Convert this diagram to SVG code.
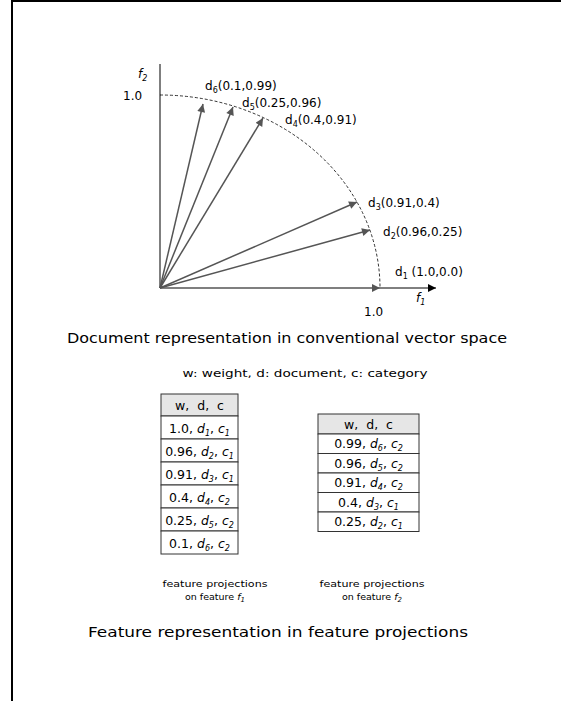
<svg xmlns="http://www.w3.org/2000/svg" width="561" height="701" viewBox="0 0 561 701">
<style>
text{font-family:"DejaVu Sans","Liberation Sans",Arial,sans-serif;fill:#000}
.lbl{font-size:12px}
.vec{stroke:#555;stroke-width:1.5;fill:none}
.cell{fill:#fff;stroke:#333;stroke-width:1}
.hdr{fill:#e6e6e6;stroke:#333;stroke-width:1}
.tc{font-size:12.5px;text-anchor:middle}
.it{font-style:italic}
.small{font-size:9.5px;text-anchor:middle}
</style>
<defs>
<marker id="ag" viewBox="0 0 10 10" refX="10" refY="5" markerWidth="9" markerHeight="8" markerUnits="userSpaceOnUse" orient="auto"><path d="M0,0L10,5L0,10z" fill="#555"/></marker>
<marker id="ab" viewBox="0 0 10 10" refX="10" refY="5" markerWidth="9" markerHeight="8" markerUnits="userSpaceOnUse" orient="auto"><path d="M0,0L10,5L0,10z" fill="#000"/></marker>
</defs>
<rect x="0" y="0" width="561" height="701" fill="#fff"/>
<path d="M12,701V1H561" stroke="#000" stroke-width="2" fill="none"/>
<g id="axes">
<line x1="160" y1="288" x2="160" y2="64" stroke="#555" stroke-width="1.5"/>
<line x1="380" y1="288" x2="436" y2="288" stroke="#000" stroke-width="1" marker-end="url(#ab)"/>
<path d="M160,95A220,193 0 0 1 380,288" stroke="#000" stroke-width="0.8" stroke-dasharray="3,2" fill="none"/>
<text x="138" y="78" class="lbl it">f<tspan font-size="8" dy="3">2</tspan></text>
<text x="123" y="100" class="lbl">1.0</text>
<text x="364" y="316" class="lbl">1.0</text>
<text x="416" y="302" class="lbl it">f<tspan font-size="8" dy="3">1</tspan></text>
</g>
<g id="connectors">
<line class="vec" x1="160" y1="288" x2="380" y2="288" marker-end="url(#ag)"/>
<line class="vec" x1="160" y1="288" x2="370" y2="230" marker-end="url(#ag)"/>
<line class="vec" x1="160" y1="288" x2="357" y2="202" marker-end="url(#ag)"/>
<line class="vec" x1="160" y1="288" x2="263" y2="118" marker-end="url(#ag)"/>
<line class="vec" x1="160" y1="288" x2="233" y2="107" marker-end="url(#ag)"/>
<line class="vec" x1="160" y1="288" x2="203" y2="104" marker-end="url(#ag)"/>
</g>
<g id="d6"><text x="205" y="90" class="lbl">d<tspan font-size="8" dy="3">6</tspan><tspan dy="-3">(0.1,0.99)</tspan></text></g>
<g id="d5"><text x="242" y="107" class="lbl">d<tspan font-size="8" dy="3">5</tspan><tspan dy="-3">(0.25,0.96)</tspan></text></g>
<g id="d4"><text x="285" y="124" class="lbl">d<tspan font-size="8" dy="3">4</tspan><tspan dy="-3">(0.4,0.91)</tspan></text></g>
<g id="d3"><text x="368" y="207" class="lbl">d<tspan font-size="8" dy="3">3</tspan><tspan dy="-3">(0.91,0.4)</tspan></text></g>
<g id="d2"><text x="383" y="236" class="lbl">d<tspan font-size="8" dy="3">2</tspan><tspan dy="-3">(0.96,0.25)</tspan></text></g>
<g id="d1"><text x="395" y="276" class="lbl">d<tspan font-size="8" dy="3">1</tspan><tspan dy="-3"> (1.0,0.0)</tspan></text></g>
<g id="title1"><text x="287" y="343" font-size="14" text-anchor="middle" textLength="440" lengthAdjust="spacingAndGlyphs">Document representation in conventional vector space</text></g>
<g id="legend"><text x="305" y="377" font-size="11" text-anchor="middle" textLength="245" lengthAdjust="spacingAndGlyphs">w: weight, d: document, c: category</text></g>
<g id="table1">
<rect class="hdr" x="161" y="394" width="77" height="22"/>
<rect class="cell" x="161" y="416" width="77" height="23"/>
<rect class="cell" x="161" y="439" width="77" height="23"/>
<rect class="cell" x="161" y="462" width="77" height="23"/>
<rect class="cell" x="161" y="485" width="77" height="23"/>
<rect class="cell" x="161" y="508" width="77" height="23"/>
<rect class="cell" x="161" y="531" width="77" height="23"/>
<text class="tc" x="199.5" y="410">w,&#160;&#160;d,&#160;&#160;c</text>
<text class="tc" x="199.5" y="433">1.0, <tspan class="it">d</tspan><tspan class="it" font-size="8" dy="3">1</tspan><tspan dy="-3">, </tspan><tspan class="it">c</tspan><tspan class="it" font-size="8" dy="3">1</tspan></text>
<text class="tc" x="199.5" y="456">0.96, <tspan class="it">d</tspan><tspan class="it" font-size="8" dy="3">2</tspan><tspan dy="-3">, </tspan><tspan class="it">c</tspan><tspan class="it" font-size="8" dy="3">1</tspan></text>
<text class="tc" x="199.5" y="479">0.91, <tspan class="it">d</tspan><tspan class="it" font-size="8" dy="3">3</tspan><tspan dy="-3">, </tspan><tspan class="it">c</tspan><tspan class="it" font-size="8" dy="3">1</tspan></text>
<text class="tc" x="199.5" y="502">0.4, <tspan class="it">d</tspan><tspan class="it" font-size="8" dy="3">4</tspan><tspan dy="-3">, </tspan><tspan class="it">c</tspan><tspan class="it" font-size="8" dy="3">2</tspan></text>
<text class="tc" x="199.5" y="525">0.25, <tspan class="it">d</tspan><tspan class="it" font-size="8" dy="3">5</tspan><tspan dy="-3">, </tspan><tspan class="it">c</tspan><tspan class="it" font-size="8" dy="3">2</tspan></text>
<text class="tc" x="199.5" y="548">0.1, <tspan class="it">d</tspan><tspan class="it" font-size="8" dy="3">6</tspan><tspan dy="-3">, </tspan><tspan class="it">c</tspan><tspan class="it" font-size="8" dy="3">2</tspan></text>
</g>
<g id="table2">
<rect class="hdr" x="318" y="414" width="101" height="20"/>
<rect class="cell" x="318" y="434" width="101" height="19.5"/>
<rect class="cell" x="318" y="453.5" width="101" height="19.5"/>
<rect class="cell" x="318" y="473" width="101" height="19.5"/>
<rect class="cell" x="318" y="492.5" width="101" height="19.5"/>
<rect class="cell" x="318" y="512" width="101" height="19.5"/>
<text class="tc" x="368.5" y="428.5">w,&#160;&#160;d,&#160;&#160;c</text>
<text class="tc" x="368.5" y="448">0.99, <tspan class="it">d</tspan><tspan class="it" font-size="8" dy="3">6</tspan><tspan dy="-3">, </tspan><tspan class="it">c</tspan><tspan class="it" font-size="8" dy="3">2</tspan></text>
<text class="tc" x="368.5" y="467.5">0.96, <tspan class="it">d</tspan><tspan class="it" font-size="8" dy="3">5</tspan><tspan dy="-3">, </tspan><tspan class="it">c</tspan><tspan class="it" font-size="8" dy="3">2</tspan></text>
<text class="tc" x="368.5" y="487">0.91, <tspan class="it">d</tspan><tspan class="it" font-size="8" dy="3">4</tspan><tspan dy="-3">, </tspan><tspan class="it">c</tspan><tspan class="it" font-size="8" dy="3">2</tspan></text>
<text class="tc" x="368.5" y="506.5">0.4, <tspan class="it">d</tspan><tspan class="it" font-size="8" dy="3">3</tspan><tspan dy="-3">, </tspan><tspan class="it">c</tspan><tspan class="it" font-size="8" dy="3">1</tspan></text>
<text class="tc" x="368.5" y="526">0.25, <tspan class="it">d</tspan><tspan class="it" font-size="8" dy="3">2</tspan><tspan dy="-3">, </tspan><tspan class="it">c</tspan><tspan class="it" font-size="8" dy="3">1</tspan></text>
</g>
<g id="caption1">
<text class="small" x="215" y="587" textLength="105" lengthAdjust="spacingAndGlyphs">feature projections</text>
<text class="small" x="215" y="600">on feature <tspan class="it">f</tspan><tspan class="it" font-size="7" dy="2">1</tspan></text>
</g>
<g id="caption2">
<text class="small" x="372" y="587" textLength="105" lengthAdjust="spacingAndGlyphs">feature projections</text>
<text class="small" x="372" y="600">on feature <tspan class="it">f</tspan><tspan class="it" font-size="7" dy="2">2</tspan></text>
</g>
<g id="title2"><text x="278" y="637" font-size="14" text-anchor="middle" textLength="380" lengthAdjust="spacingAndGlyphs">Feature representation in feature projections</text></g>
</svg>
